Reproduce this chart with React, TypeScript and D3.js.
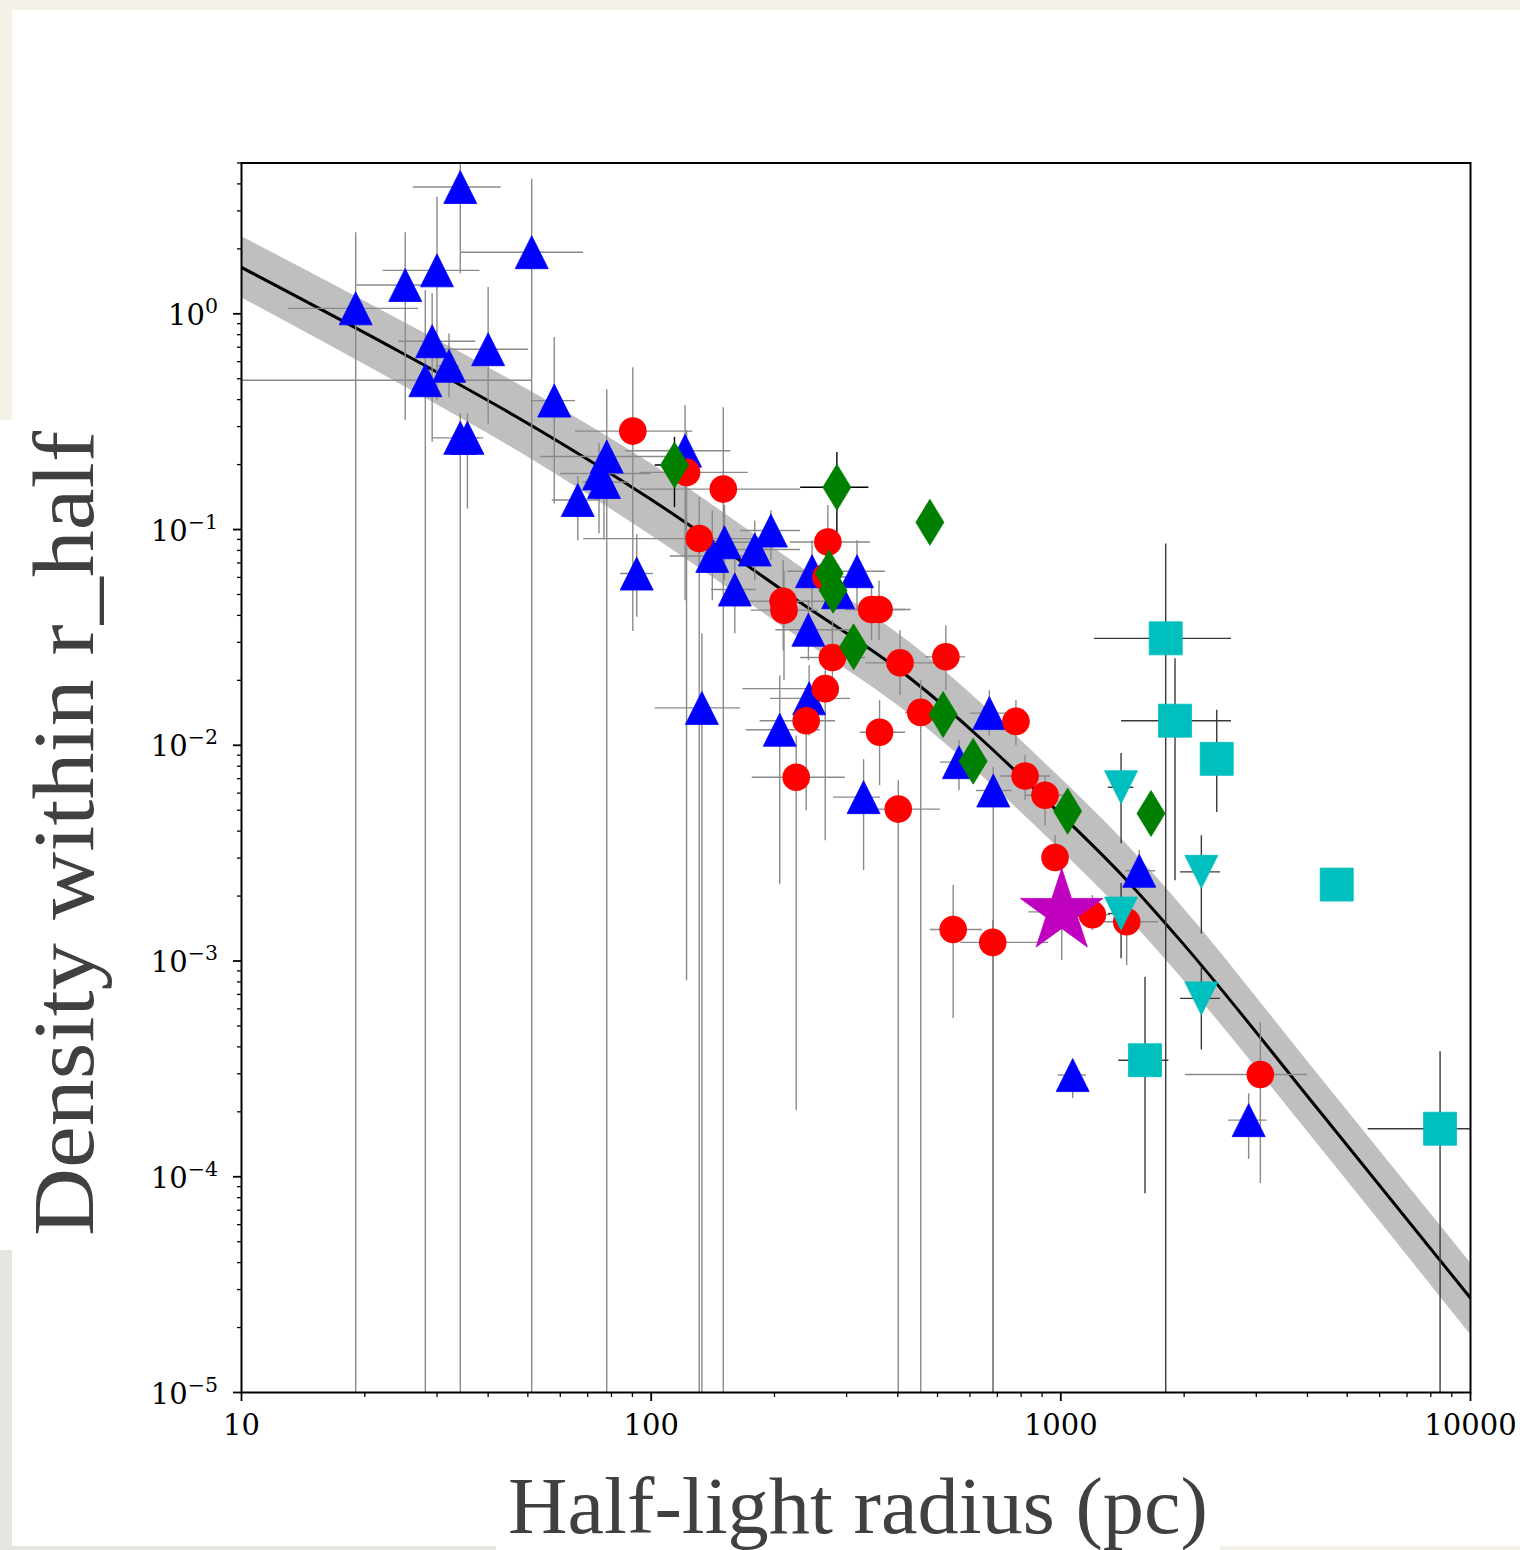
import React from "react";
import * as d3 from "d3";

// ---- fit curve ----
const fitR = [10, 24.4, 53.5, 99.3, 227, 428, 957, 1448, 1954, 4292, 10000];
const fitRho = [1.64, 0.665, 0.288, 0.139, 0.047, 0.0205, 5.18e-3, 2.37e-3, 1.25e-3, 2.0e-4, 2.74e-5];
const bandHi = [2.29, 0.936, 0.415, 0.204, 0.0691, 0.03, 7.61e-3, 3.48e-3, 1.835e-3, 2.9e-4, 3.98e-5];
const bandLo = [1.19, 0.473, 0.201, 0.0948, 0.032, 0.0139, 3.53e-3, 1.61e-3, 8.51e-4, 1.37e-4, 1.85e-5];

// ---- data points: [r, rho, rLo, rHi, rhoLo, rhoHi] ----
const blueTriangles = [
  [19.0, 1.06, 13.0, 27.0, 1e-6, 2.39],
  [25.1, 1.36, 19.1, 27.5, 0.323, 2.39],
  [30.0, 1.59, 22.1, 38.1, 0.397, 3.5],
  [34.2, 3.87, 26.2, 42.9, 1.54, 6],
  [51.1, 1.93, 34.2, 68.2, 1e-6, 4.23],
  [29.2, 0.746, 24.1, 37.2, 0.255, 1.25],
  [28.1, 0.492, 5, 51.1, 1e-6, 1.29],
  [32.1, 0.574, 30, 34, 0.41, 0.81],
  [40.0, 0.685, 29.1, 50.1, 0.31, 1.33],
  [34.2, 0.266, 29.1, 38.9, 1e-6, 0.346],
  [35.6, 0.266, 33, 38, 0.125, 0.346],
  [58.0, 0.396, 51.1, 65.2, 0.132, 0.781],
  [66.2, 0.137, 57.2, 75.0, 0.0892, 0.177],
  [77.9, 0.218, 53.5, 118, 1e-6, 0.447],
  [74.6, 0.182, 59.9, 99.4, 0.0961, 0.251],
  [76.7, 0.166, 68, 88, 0.09, 0.23],
  [92.2, 0.0625, 83.9, 101, 0.0394, 0.0951],
  [121, 0.232, 86.3, 156, 0.047, 0.377],
  [133, 0.0149, 102, 165, 1e-6, 0.0331],
  [141, 0.0754, 111, 184, 0.047, 0.123],
  [151, 0.0873, 124, 190, 0.0582, 0.13],
  [160, 0.0527, 140, 180, 0.0331, 0.076],
  [179, 0.0808, 147, 231, 0.0582, 0.11],
  [196, 0.0989, 165, 231, 0.0721, 0.123],
  [206, 0.0118, 170, 258, 0.00227, 0.0211],
  [242, 0.0343, 201, 306, 0.0248, 0.047],
  [247, 0.0641, 215, 290, 0.0423, 0.0892],
  [243, 0.0165, 195, 306, 0.0111, 0.0235],
  [286, 0.0512, 270, 300, 0.045, 0.058],
  [318, 0.0641, 258, 372, 0.0423, 0.0892],
  [330, 0.00575, 278, 362, 0.00264, 0.00862],
  [564, 0.00835, 507, 635, 0.00619, 0.0106],
  [669, 0.0141, 600, 752, 0.0111, 0.018],
  [684, 0.00617, 621, 760, 1e-6, 0.00794],
  [1554, 0.00262, 1434, 1698, 0.00213, 0.00327],
  [1069, 2.96e-4, 982, 1152, 2.32e-4, 3.4e-4],
  [2874, 1.83e-4, 2559, 3181, 1.21e-4, 2.44e-4],
];

const redCircles = [
  [90.2, 0.286, 65.2, 126, 0.0339, 0.565],
  [122, 0.184, 93.9, 172, 8.15e-4, 0.289],
  [150, 0.154, 93.9, 231, 1e-6, 0.369],
  [131, 0.0908, 68.2, 184, 1e-6, 0.141],
  [210, 0.0465, 160, 281, 0.0276, 0.0721],
  [211, 0.0423, 175, 255, 0.02, 0.0648],
  [270, 0.0876, 218, 342, 0.0614, 0.13],
  [267, 0.0603, 240, 300, 0.045, 0.08],
  [345, 0.0426, 297, 417, 0.0307, 0.0552],
  [360, 0.0426, 310, 430, 0.0307, 0.058],
  [277, 0.0255, 231, 333, 0.0162, 0.038],
  [405, 0.0241, 333, 493, 0.0171, 0.0341],
  [524, 0.0257, 466, 584, 0.018, 0.036],
  [266, 0.0183, 167, 283, 0.00363, 0.0276],
  [239, 0.013, 184, 281, 0.005, 0.018],
  [226, 0.00711, 176, 297, 2.04e-4, 0.0111],
  [361, 0.0115, 323, 417, 0.00653, 0.0162],
  [455, 0.0142, 417, 493, 1e-6, 0.02],
  [401, 0.00506, 323, 507, 1e-6, 0.00689],
  [777, 0.0129, 710, 841, 0.01, 0.0162],
  [818, 0.00721, 710, 941, 0.00557, 0.009],
  [915, 0.00587, 818, 1024, 0.00426, 0.00721],
  [968, 0.00302, 900, 1040, 0.002638, 0.00383],
  [546, 0.0014, 479, 642, 5.44e-4, 0.00225],
  [682, 0.00122, 568, 931, 1e-6, 0.00155],
  [1194, 0.00164, 1024, 1318, 0.00139, 0.00202],
  [1448, 0.00152, 1246, 1727, 9.57e-4, 0.00192],
  [3069, 2.98e-4, 2010, 3990, 9.35e-5, 5.21e-4],
];

const greenDiamondsBlackErr = [
  [114, 0.199, 102, 128, 0.127, 0.269],
  [284, 0.157, 231, 339, 0.0974, 0.229],
];
const greenDiamonds = [
  [479, 0.108, 479, 479, 0.108, 0.108],
  [272, 0.0627, 272, 272, 0.0627, 0.0627],
  [278, 0.0523, 278, 278, 0.0523, 0.0523],
  [312, 0.0286, 312, 312, 0.0286, 0.0286],
  [516, 0.0139, 516, 516, 0.0139, 0.0139],
  [611, 0.00844, 611, 611, 0.00844, 0.00844],
  [1039, 0.00495, 1039, 1039, 0.00495, 0.00495],
  [1660, 0.00483, 1660, 1660, 0.00483, 0.00483],
];

const cyanSquares = [
  [1803, 0.0313, 1205, 2603, 1e-6, 0.0861],
  [1900, 0.013, 1403, 2603, 0.00237, 0.0253],
  [2402, 0.00865, 2402, 2402, 0.00491, 0.0146],
  [4715, 0.00226, 4715, 4715, 0.00226, 0.00226],
  [1605, 3.47e-4, 1381, 1830, 8.38e-5, 8.45e-4],
  [8428, 1.67e-4, 5611, 12000, 1e-6, 3.82e-4],
];

const cyanDownTriangles = [
  [1403, 0.00639, 1302, 1503, 0.00351, 0.00922],
  [2203, 0.00259, 1954, 2446, 0.00134, 0.00383],
  [1403, 0.00166, 1303, 1510, 0.00103, 0.0023],
  [2203, 6.71e-4, 1954, 2446, 3.89e-4, 9.4e-4],
];

const magentaStar = [[1005, 0.00169, 832, 1212, 0.00101, 0.0024]];

const xTickLabels = ["10", "100", "1000", "10000"];
const yTickExponents = ["0", "\u22121", "\u22122", "\u22123", "\u22124", "\u22125"];

const xLabel = "Half-light radius (pc)";
const yLabel = "Density within r_half";

// ---- marker shapes (pixel geometry) ----
const triUp = "M0,-16.5L16.5,16.5L-16.5,16.5Z";
const triDown = "M0,16.5L16.5,-16.5L-16.5,-16.5Z";
const square = "M-16.5,-16.5H16.5V16.5H-16.5Z";
const diamond = "M0,-23L14,0L0,23L-14,0Z";
const starPath = (() => {
  const R = 43.5, r = R * 0.382;
  const pts: string[] = [];
  for (let i = 0; i < 10; i++) {
    const a = -Math.PI / 2 + (i * Math.PI) / 5;
    const rad = i % 2 === 0 ? R : r;
    pts.push(`${(rad * Math.cos(a)).toFixed(2)},${(rad * Math.sin(a)).toFixed(2)}`);
  }
  return "M" + pts.join("L") + "Z";
})();

export default function App() {
  const L = 241.5, Rr = 1470.5, T = 163, B = 1392.5;
  const x = d3.scaleLog().domain([10, 10000]).range([L, Rr]);
  const y = d3.scaleLog().domain([1e-5, 5]).range([B, T]);

  const line = d3
    .line<number>()
    .x((_, i) => x(fitR[i]))
    .y((d) => y(d))
    .curve(d3.curveMonotoneX);
  const area = d3
    .area<number>()
    .x((_, i) => x(fitR[i]))
    .y0((_, i) => y(bandLo[i]))
    .y1((_, i) => y(bandHi[i]))
    .curve(d3.curveMonotoneX);

  const xt = x.ticks();
  const yt = y.ticks();
  const isMajor = (v: number) => Math.abs(Math.log10(v) - Math.round(Math.log10(v))) < 1e-6;
  const xMajor = xt.filter(isMajor);
  const yMajor = yt.filter(isMajor).sort((a, b) => b - a);

  const errs = (data: number[][], color: string, key: string) =>
    data.map((d, i) => (
      <g key={key + i} stroke={color} strokeWidth={1.4} fill="none">
        {d[3] > d[2] && <line x1={x(d[2])} x2={x(d[3])} y1={y(d[1])} y2={y(d[1])} />}
        {d[5] > d[4] && <line x1={x(d[0])} x2={x(d[0])} y1={y(d[4])} y2={y(d[5])} />}
      </g>
    ));
  const marks = (data: number[][], path: string, color: string, key: string) =>
    data.map((d, i) => (
      <path key={key + i} d={path} transform={`translate(${x(d[0])},${y(d[1])})`} fill={color} stroke={color} strokeWidth={0.8} />
    ));
  const circles = (data: number[][], color: string, key: string) =>
    data.map((d, i) => <circle key={key + i} cx={x(d[0])} cy={y(d[1])} r={13.8} fill={color} />);

  const gray = "#8a8a8a";
  const dark = "#3a3a3a";

  return (
    <div style={{ position: "absolute", left: 0, top: 0 }}>
      <svg width={1520} height={1550} style={{ display: "block" }}>
        {/* page background */}
        <rect x={0} y={0} width={1520} height={1550} fill="#f4f1e9" />
        <rect x={0} y={1250} width={12} height={300} fill="#e7e5e0" />
        <rect x={0} y={1546} width={496} height={4} fill="#e7e5e0" />
        <rect x={12} y={10} width={1508} height={1536} fill="#ffffff" />
        <rect x={0} y={420} width={40} height={830} fill="#ffffff" />
        <rect x={496} y={1470} width={724} height={80} fill="#ffffff" />

        <defs>
          <clipPath id="plotclip">
            <rect x={L} y={T} width={Rr - L} height={B - T} />
          </clipPath>
        </defs>

        <g clipPath="url(#plotclip)">
          <path d={area(fitRho) || ""} fill="#bfbfbf" />
          <path d={line(fitRho) || ""} fill="none" stroke="#000" strokeWidth={3} />
          {errs(blueTriangles, gray, "eb")}
          {errs(redCircles, gray, "er")}
          {errs(greenDiamonds, gray, "eg")}
          {errs(greenDiamondsBlackErr, "#000", "egb")}
          {errs(cyanSquares, dark, "es")}
          {errs(cyanDownTriangles, dark, "ev")}
          {errs(magentaStar, gray, "em")}
          {marks(blueTriangles, triUp, "#0000ff", "b")}
          {circles(redCircles, "#ff0000", "r")}
          {marks(greenDiamondsBlackErr, diamond, "#008000", "gb")}
          {marks(greenDiamonds, diamond, "#008000", "g")}
          {marks(cyanSquares, square, "#00bfbf", "s")}
          {marks(cyanDownTriangles, triDown, "#00bfbf", "v")}
          {marks(magentaStar, starPath, "#bf00bf", "m")}
        </g>

        {/* axes frame */}
        <rect x={L} y={T} width={Rr - L} height={B - T} fill="none" stroke="#000" strokeWidth={2} />

        {/* x ticks */}
        {xt.map((v, i) => (
          <line key={"xt" + i} x1={x(v)} x2={x(v)} y1={B} y2={B + (isMajor(v) ? 8.5 : 4.5)} stroke="#000" strokeWidth={isMajor(v) ? 1.8 : 1.3} />
        ))}
        {xMajor.map((v, i) => (
          <text key={"xl" + i} x={x(v)} y={1435} textAnchor="middle" fontFamily="DejaVu Serif" fontSize={29} fill="#000">
            {xTickLabels[i]}
          </text>
        ))}

        {/* y ticks */}
        {yt.map((v, i) => (
          <line key={"yt" + i} x1={L - (isMajor(v) ? 8.5 : 4.5)} x2={L} y1={y(v)} y2={y(v)} stroke="#000" strokeWidth={isMajor(v) ? 1.8 : 1.3} />
        ))}
        {yMajor.map((v, i) => (
          <text key={"yl" + i} x={218} y={y(v) + 11} textAnchor="end" fontFamily="DejaVu Serif" fontSize={29} fill="#000">
            <tspan>10</tspan>
            <tspan dy={-12} fontSize={20.5}>{yTickExponents[i]}</tspan>
          </text>
        ))}

        {/* axis labels */}
        <text x={858} y={1533} textAnchor="middle" fontFamily="Liberation Serif" fontSize={80} fill="#404040" textLength={700} lengthAdjust="spacingAndGlyphs">
          {xLabel}
        </text>
        <text transform="translate(93,833.5) rotate(-90)" textAnchor="middle" fontFamily="Liberation Serif" fontSize={86} fill="#404040" textLength={805} lengthAdjust="spacingAndGlyphs">
          {yLabel}
        </text>
      </svg>
    </div>
  );
}
